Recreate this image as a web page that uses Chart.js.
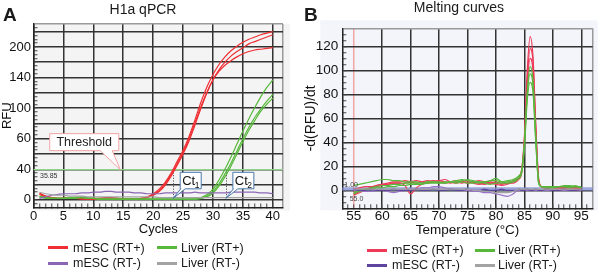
<!DOCTYPE html>
<html><head><meta charset="utf-8">
<script src="https://cdn.jsdelivr.net/npm/chart.js@4.4.0/dist/chart.umd.min.js"></script>
<style>
html,body{margin:0;padding:0;background:#fff;}
body{width:600px;height:273px;position:relative;overflow:hidden;font-family:'Liberation Sans',Arial,sans-serif;color:#1a1a1a;}
canvas{position:absolute;top:0;}
#cA{left:0;}
#cB{left:300px;}
.abs{position:absolute;white-space:nowrap;}
.panel{font-weight:bold;font-size:19px;line-height:19px;}
.ttl{font-size:14px;line-height:14px;transform:translateX(-50%);}
.leg{font-size:12.5px;line-height:14px;}
.sw{position:absolute;height:3px;width:20px;}
</style></head>
<body>
<canvas id="cA" width="300" height="273"></canvas>
<canvas id="cB" width="300" height="273"></canvas>
<div class="abs panel" style="left:3px;top:4.5px;">A</div>
<div class="abs panel" style="left:304px;top:4.5px;">B</div>
<div class="abs ttl" style="left:143px;top:1.5px;">H1a qPCR</div>
<div class="abs ttl" style="left:459px;top:0px;">Melting curves</div>
<div id="legends"></div>
<script>
// ---------------- DATA ----------------
// Panel A: qPCR amplification (values in RFU grid units)
const cycles = [1,2,3,4,5,6,7,8,9,10,11,12,13,14,15,16,17,18,19,20,21,22,23,24,25,26,27,28,29,30,31,32,33,34,35,36,37,38,39,40];
const mescRTplus1 = [9,5,3,2,2,2,2,2,1,1,2,3,3,2,1,1,1,2,4,8,14,23,35,50,65,83,105,128,148,164,177,187,195,201,206,210,213,216,218,220];
const mescRTplus2 = [7,4,3,2,2,2,2,1,1,1,1,2,2,2,1,1,1,1,3,6,11,19,31,45,60,77,98,120,140,157,170,180,188,194,199,204,207,210,213,216];
const mescRTplus3 = [8,5,3,2,2,2,2,2,2,2,2,2,2,2,1,1,1,2,3,7,12,21,33,47,62,80,101,122,141,157,168,176,182,187,191,194,196,197,198,199];
const liverRTplus1 = [5,3,2,2,2,3,3,4,3,2,1,1,1,1,1,1,1,1,1,1,1,1,1,1,1,1,1,3,7,14,26,40,56,73,90,106,121,135,147,157];
const liverRTplus2 = [4,3,2,2,2,2,3,3,2,2,1,1,1,1,1,1,1,1,1,1,1,1,1,1,1,1,1,2,5,11,21,34,48,64,80,95,108,119,129,138];
const liverRTplus3 = [4,2,2,2,2,2,2,3,2,2,1,1,1,1,1,1,1,1,1,1,1,1,1,1,1,1,1,2,4,9,18,30,44,60,76,91,104,116,125,133];
const mescRTminus = [2,4,6,7,8,8,8,9,9,10,10,11,11,10,10,10,9,9,8,8,8,9,9,9,9,9,10,9,9,9,9,9,10,10,10,10,10,9,9,8];
const liverRTminus = [10,8,7,6,6,5,5,5,4,4,4,4,4,4,4,4,4,4,4,4,3,3,3,3,3,3,3,3,3,3,3,3,3,3,3,3,3,3,3,3];
const thresholdRFU = 39.5;
const thresholdLabel = '35.85';
const ctValues = [23.35, 32.15];
const ctNames = ['1', '2'];
const cycleTicks = [0,5,10,15,20,25,30,35,40];
const rfuTickValues = [0,40,80,120,160,200];
const rfuTickLabels = ['0','40','60','100','140','200'];

// Panel B: melting curves
const temps = [55,56,57,58,59,60,61,62,63,64,65,66,67,68,69,70,71,72,73,74,75,76,77,78,79,80,81,82,83,83.5,84,84.5,85,85.5,86,86.5,87,87.5,88,89,90,91,92,93,94,95];
const meltMescPlus1 = [-3,-1,1,2,3,4,5,6,6,4,-3,2,5,7,8,7,6,7,8,7,6,7,6,5,6,5,4,5,7,8,10,15,45,100,128,112,55,10,3,2,2,2,2,2,2,1];
const meltMescPlus2 = [-4,-2,0,2,4,5,6,7,7,8,7,6,7,8,7,8,7,6,7,6,7,6,5,6,7,6,5,6,6,7,9,14,40,92,118,108,52,9,3,2,2,1,2,2,1,1];
const meltMescPlus3 = [1,2,3,3,4,5,5,6,6,6,7,8,7,6,7,8,9,7,6,7,8,7,8,7,6,7,6,6,8,9,11,17,42,88,110,100,48,8,3,2,3,2,2,3,2,2];
const meltLiverPlus1 = [4,5,6,7,8,9,9,8,8,7,7,7,6,7,7,7,6,7,8,9,8,7,6,7,8,10,7,6,7,8,10,14,38,82,103,92,45,7,3,3,3,3,4,4,3,3];
const meltLiverPlus2 = [-2,0,1,2,3,4,4,5,5,6,6,6,6,7,7,6,6,7,7,8,9,8,7,7,8,8,7,8,9,10,12,16,40,80,97,88,42,6,3,3,2,3,3,3,4,2];
const meltLiverPlus3 = [-3,-1,0,1,2,2,3,3,4,4,5,5,5,6,6,6,7,7,6,7,6,6,7,6,5,6,6,7,8,9,11,15,35,75,90,82,40,6,3,2,2,3,3,2,3,2];
const meltMescMinus1 = [0,0,-1,-1,0,0,-1,-2,-1,0,1,1,2,2,3,3,2,1,1,0,0,-1,-1,-2,-2,-3,-4,-5,-3,-1,0,0,0,0,0,0,0,0,0,0,0,0,0,0,0,0];
const meltMescMinus2 = [1,0,0,1,0,0,0,1,0,0,0,1,0,0,1,0,0,1,0,0,1,0,0,1,0,0,1,0,0,0,1,0,0,1,0,0,1,0,0,1,0,0,1,0,0,1];
const meltLiverMinus = [1,1,1,1,1,1,1,1,1,1,1,1,1,1,1,1,1,1,1,1,1,0,0,-1,-1,-2,-2,-2,-1,0,1,1,1,1,1,1,1,1,1,1,1,1,1,1,1,1];
const meltThreshold = 1.0;
const meltThresholdLabel = '1.00';
const meltStartLabel = '55.0';
const meltStartTemp = 55;
const tempTicks = [55,60,65,70,75,80,85,90,95];
const dRfuTicks = [0,20,40,60,80,100,120];

const legendLabels = ['mESC (RT+)','Liver (RT+)','mESC (RT-)','Liver (RT-)'];

// ---------------- STYLE ----------------
const RED_A = '#ef2f33', GREEN = '#58b83c', PURPLE_A = '#8a66b4', GRAY = '#a3a3a3';
const RED_B = '#ec3a58', PURPLE_B = '#5e43a0';
const legendColors = [RED_A, GREEN, PURPLE_A, GRAY];
Chart.defaults.font.family = "'Liberation Sans', Arial, sans-serif";
Chart.defaults.color = '#151515';

function pts(xs, ys){ return ys.map((v,i)=>({x:xs[i], y:v})); }
function ds(xs, ys, color, w){ return {data: pts(xs, ys), borderColor: color, borderWidth: w||1.2, pointRadius:0, fill:false, cubicInterpolationMode:'monotone'}; }

const panelBg = {
  id:'panelBg',
  beforeDraw(chart, args, o){
    const {ctx, chartArea:a} = chart;
    ctx.save(); ctx.fillStyle = o.color;
    ctx.fillRect(a.left + o.l, a.top + o.t, (a.right + o.r) - (a.left + o.l), (a.bottom + o.b) - (a.top + o.t));
    ctx.restore();
  }
};

function callout(ctx, box, tip, base1, base2, stroke){
  ctx.beginPath();
  ctx.moveTo(box.x, box.y);
  ctx.lineTo(box.x + box.w, box.y);
  ctx.lineTo(box.x + box.w, box.y + box.h);
  ctx.lineTo(base2, box.y + box.h);
  ctx.lineTo(tip.x, tip.y);
  ctx.lineTo(base1, box.y + box.h);
  ctx.lineTo(box.x, box.y + box.h);
  ctx.closePath();
  ctx.fillStyle = '#fff'; ctx.fill();
  ctx.strokeStyle = stroke; ctx.lineWidth = 1; ctx.stroke();
}

const qpcrNotes = {
  id:'qpcrNotes',
  beforeDatasetsDraw(chart){
    const {ctx, chartArea:a, scales:{x, y}} = chart;
    const ty = y.getPixelForValue(thresholdRFU);
    ctx.save();
    ctx.strokeStyle = '#8fd48a'; ctx.lineWidth = 1.2;
    ctx.beginPath(); ctx.moveTo(a.left, ty); ctx.lineTo(a.right, ty); ctx.stroke();
    ctx.setLineDash([1.2, 1.5]); ctx.strokeStyle = '#555'; ctx.lineWidth = 1;
    ctValues.forEach(ct => { const px = Math.round(x.getPixelForValue(ct)) + 0.5; ctx.beginPath(); ctx.moveTo(px, ty); ctx.lineTo(px, y.getPixelForValue(2)); ctx.stroke(); });
    ctx.restore();
  },
  afterDatasetsDraw(chart){
    const {ctx, chartArea:a, scales:{x, y}} = chart;
    const ty = y.getPixelForValue(thresholdRFU);
    ctx.save();
    ctx.fillStyle = '#333'; ctx.font = "7px 'Liberation Sans', Arial, sans-serif"; ctx.textBaseline = 'middle';
    ctx.fillText(thresholdLabel, a.left + 6.5, ty + 6);
    // threshold callout
    const tip = {x: x.getPixelForValue(14.5), y: ty};
    const box = {x: tip.x - 70.5, y: ty - 36, w: 69, h: 17};
    callout(ctx, box, tip, tip.x - 20, tip.x - 8, '#f2a3a3');
    ctx.fillStyle = '#222'; ctx.font = "12.5px 'Liberation Sans', Arial, sans-serif"; ctx.textAlign = 'center'; ctx.textBaseline = 'middle';
    ctx.fillText('Threshold', box.x + box.w/2, box.y + box.h/2 + 0.5);
    // Ct callouts
    ctValues.forEach((ct, i) => {
      const t = {x: x.getPixelForValue(ct), y: y.getPixelForValue(2)};
      const b = {x: t.x + 7, y: t.y - 26, w: 21, h: 16.5};
      callout(ctx, b, t, b.x + 0.5, b.x + 5, '#4a78ac');
      ctx.fillStyle = '#111'; ctx.textAlign = 'left'; ctx.textBaseline = 'alphabetic';
      ctx.font = "13px 'Liberation Sans', Arial, sans-serif";
      ctx.fillText('Ct', b.x + 2, b.y + 13);
      ctx.font = "8.5px 'Liberation Sans', Arial, sans-serif";
      ctx.fillText(ctNames[i], b.x + 14.5, b.y + 15.5);
    });
    ctx.restore();
  }
};

const meltNotes = {
  id:'meltNotes',
  beforeDatasetsDraw(chart){
    const {ctx, chartArea:a, scales:{y}} = chart;
    const ty = y.getPixelForValue(meltThreshold);
    ctx.save();
    ctx.strokeStyle = 'rgba(130,140,205,0.75)'; ctx.lineWidth = 3.5;
    ctx.beginPath(); ctx.moveTo(a.left, ty); ctx.lineTo(a.right, ty); ctx.stroke();
    ctx.restore();
  },
  afterDatasetsDraw(chart){
    const {ctx, chartArea:a, scales:{x, y}} = chart;
    const ty = y.getPixelForValue(meltThreshold);
    ctx.save();
    ctx.fillStyle = '#444'; ctx.font = "7px 'Liberation Sans', Arial, sans-serif"; ctx.textBaseline = 'middle';
    ctx.fillText(meltThresholdLabel, a.left + 2, ty - 4);
    ctx.fillText(meltStartLabel, x.getPixelForValue(meltStartTemp) - 4, ty + 10);
    ctx.restore();
  }
};

// ---------------- CHART A ----------------
const X_MAX_A = 41.7;
new Chart(document.getElementById('cA'), {
  type:'line',
  data:{ datasets:[
    ds(cycles, liverRTminus, GRAY),
    ds(cycles, mescRTminus, PURPLE_A),
    ds(cycles, liverRTplus3, GREEN),
    ds(cycles, liverRTplus2, GREEN),
    ds(cycles, liverRTplus1, GREEN),
    ds(cycles, mescRTplus3, RED_A),
    ds(cycles, mescRTplus2, RED_A),
    ds(cycles, mescRTplus1, RED_A)
  ]},
  plugins:[panelBg, qpcrNotes],
  options:{
    responsive:false, animation:false, events:[],
    layout:{padding:{left:0, top:24, right:17, bottom:35.8}},
    plugins:{legend:{display:false}, tooltip:{enabled:false}, panelBg:{color:'#f4f4f4', l:0, t:0, r:7, b:3}},
    scales:{
      x:{type:'linear', min:0, max:X_MAX_A,
        afterFit(s){ s.height = 29.7; },
        ticks:{stepSize:1, autoSkip:false, maxRotation:0, padding:5.3, font:{size:13}, color:'#111',
          callback:(v)=> cycleTicks.includes(v) ? String(v) : ''},
        grid:{lineWidth:1.5, tickLength:-4, tickWidth:1,
          color:(c)=>{ const v=c.tick.value; if (Math.abs(v-X_MAX_A)<1e-6) return '#9a9a9a'; return (v%5===0) ? '#333' : 'rgba(0,0,0,0)'; },
          tickColor:(c)=>{ const v=c.tick.value; return (v>0 && v<40.5) ? '#444' : 'rgba(0,0,0,0)'; }},
        border:{display:true, color:'#222', width:1.5},
        title:{display:true, text:'Cycles', font:{size:13}, padding:0, color:'#111'}
      },
      y:{type:'linear', min:-10, max:230,
        afterFit(s){ s.width = 33.5; },
        ticks:{stepSize:5, autoSkip:false, padding:6.5, font:{size:13}, color:'#111',
          callback:(v)=>{ const i = rfuTickValues.indexOf(v); return i>=0 ? rfuTickLabels[i] : ''; }},
        grid:{lineWidth:1.5, tickLength:-4, tickWidth:1,
          color:(c)=>{ const v=c.tick.value; if (v===230) return '#9a9a9a'; return (v%20===0 && v>=0) ? '#333' : 'rgba(0,0,0,0)'; },
          tickColor:(c)=>{ const v=c.tick.value; return (v>-10 && v<230) ? '#444' : 'rgba(0,0,0,0)'; }},
        border:{display:true, color:'#222', width:1.5},
        title:{display:true, text:'RFU', font:{size:13}, padding:0, color:'#111'}
      }
    }
  }
});

// ---------------- CHART B ----------------
new Chart(document.getElementById('cB'), {
  type:'line',
  data:{ datasets:[
    ds(temps, meltLiverMinus, GRAY),
    ds(temps, meltMescMinus2, PURPLE_B),
    ds(temps, meltMescMinus1, '#9a72c8'),
    ds(temps, meltLiverPlus3, GREEN),
    ds(temps, meltLiverPlus2, GREEN),
    ds(temps, meltLiverPlus1, GREEN),
    ds(temps, meltMescPlus3, RED_B),
    ds(temps, meltMescPlus2, RED_B),
    ds(temps, meltMescPlus1, RED_B)
  ]},
  plugins:[panelBg, meltNotes],
  options:{
    responsive:false, animation:false, events:[],
    layout:{padding:{left:2.6, top:28.3, right:7.3, bottom:34.5}},
    plugins:{legend:{display:false}, tooltip:{enabled:false}, panelBg:{color:'#f3f5fa', l:-22, t:-8, r:5, b:2}},
    scales:{
      x:{type:'linear', min:53, max:97,
        afterFit(s){ s.height = 30.2; },
        ticks:{stepSize:1, autoSkip:false, maxRotation:0, padding:4.3, font:{size:13.5}, color:'#111',
          callback:(v)=> tempTicks.includes(v) ? String(v) : ''},
        grid:{lineWidth:1.5, tickLength:-4, tickWidth:1,
          color:(c)=>{ const v=c.tick.value; if (v===97) return '#9a9a9a'; if (v===meltStartTemp) return '#f4a7a7'; return (v%5===0 && v>55) ? '#333' : 'rgba(0,0,0,0)'; },
          tickColor:(c)=>{ const v=c.tick.value; return (v>53 && v<97) ? '#444' : 'rgba(0,0,0,0)'; }},
        border:{display:true, color:'#222', width:1.5},
        title:{display:true, text:'Temperature (°C)', font:{size:13.5}, padding:0, color:'#111'}
      },
      y:{type:'linear', min:-15, max:135,
        afterFit(s){ s.width = 39.7; },
        ticks:{stepSize:5, autoSkip:false, padding:8, font:{size:13.5}, color:'#111',
          callback:(v)=> dRfuTicks.includes(v) ? String(v) : ''},
        grid:{lineWidth:1.5, tickLength:-4, tickWidth:1,
          color:(c)=>{ const v=c.tick.value; if (v===135) return '#9a9a9a'; return (v%20===0 && v>=0) ? '#333' : 'rgba(0,0,0,0)'; },
          tickColor:(c)=>{ const v=c.tick.value; return (v>-15 && v<135) ? '#444' : 'rgba(0,0,0,0)'; }},
        border:{display:true, color:'#222', width:1.5},
        title:{display:true, text:'-d(RFU)/dt', font:{size:14}, padding:0, color:'#111'}
      }
    }
  }
});

// ---------------- LEGENDS (HTML) ----------------
const legSpec = [
  {swX:[48,157], txX:[73,181], rows:[247.5,263]},
  {swX:[367,475], txX:[392,498], rows:[250,265]}
];
const legColorsB = [RED_B, GREEN, PURPLE_B, GRAY];
let html = '';
legSpec.forEach((s, p) => {
  legendLabels.forEach((lab, i) => {
    const col = i % 2, row = Math.floor(i / 2);
    const c = p === 0 ? legendColors[i] : legColorsB[i];
    html += `<div class="sw" style="left:${s.swX[col]}px;top:${s.rows[row]-1.5}px;background:${c}"></div>`;
    html += `<div class="abs leg" style="left:${s.txX[col]}px;top:${s.rows[row]-7}px;">${lab}</div>`;
  });
});
document.getElementById('legends').innerHTML = html;
</script>
</body></html>
